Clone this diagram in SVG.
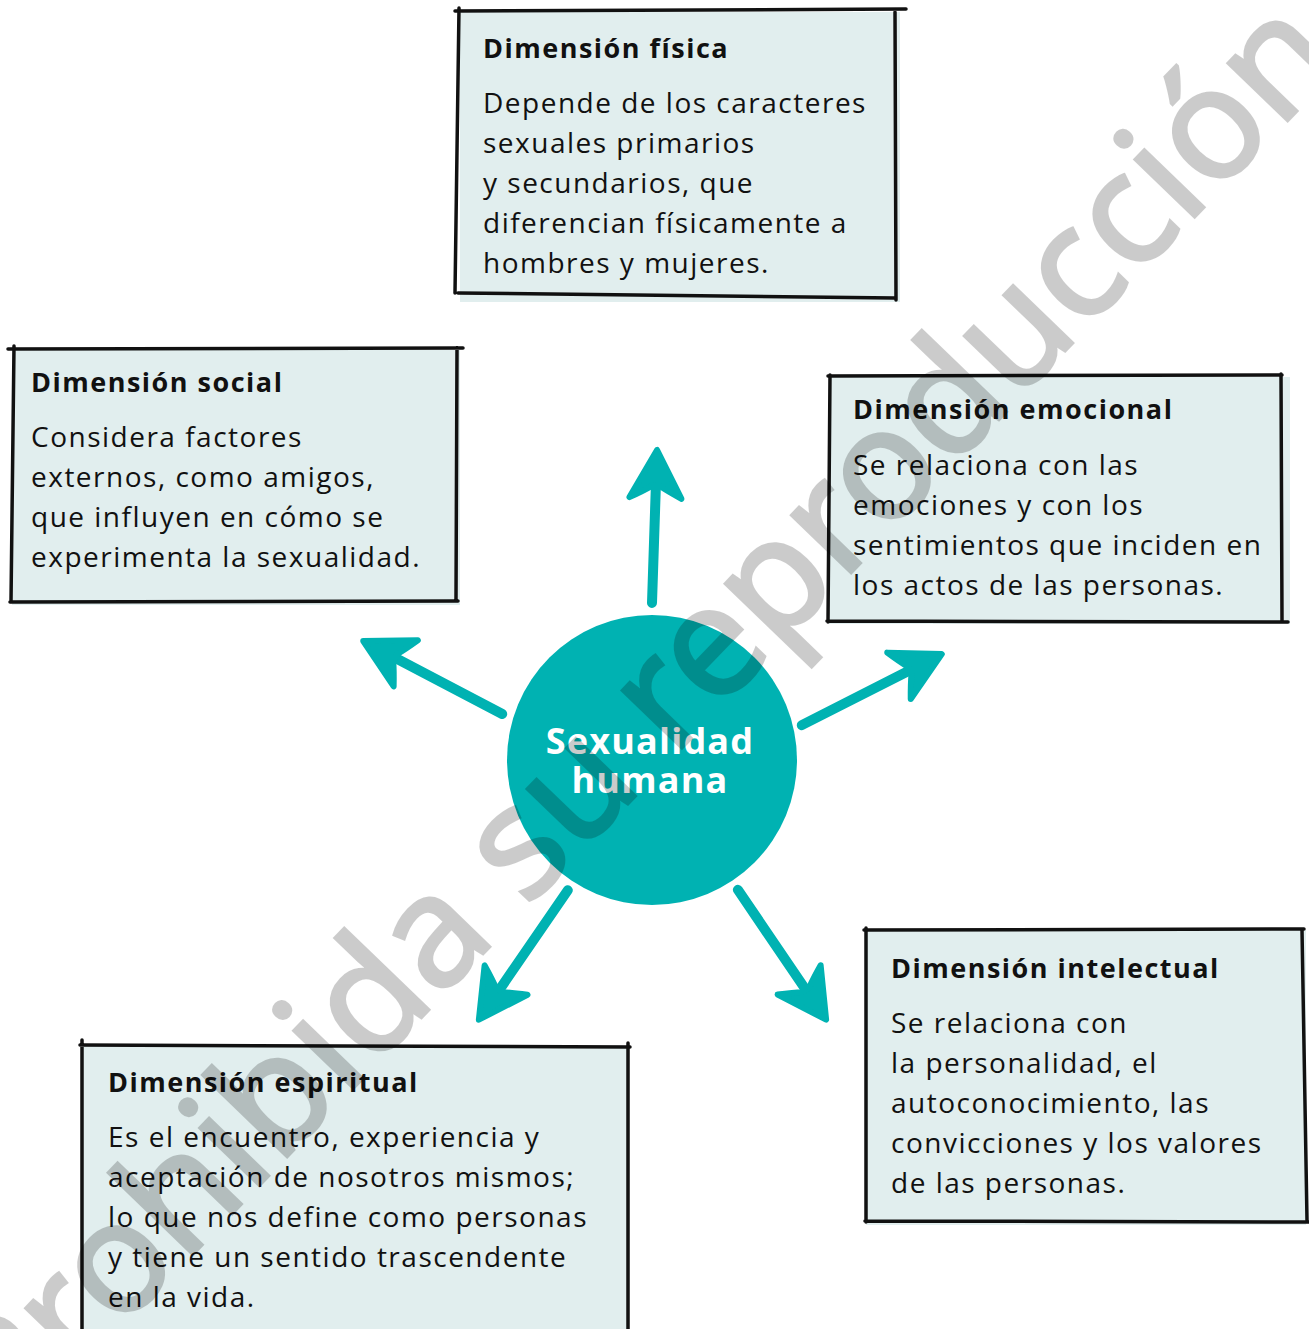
<svg xmlns="http://www.w3.org/2000/svg" width="1309" height="1329" viewBox="0 0 1309 1329">
<style>
.fill{fill:#e1eeee;stroke:none}
.bd{fill:none;stroke:#111;stroke-width:3.5;stroke-linecap:round;stroke-linejoin:round}
.tt{font-family:"Open Sans","Liberation Sans",sans-serif;font-weight:700;font-size:27px;letter-spacing:1.5px;fill:#111}
.tx{font-family:"Open Sans","Liberation Sans",sans-serif;font-size:28px;letter-spacing:1.5px;fill:#111}
.shaft{stroke:#00b2b2;stroke-width:10;stroke-linecap:round;fill:none}
.head{fill:#00b2b2;stroke:#00b2b2;stroke-width:6;stroke-linejoin:round}
.ctr{font-family:"Open Sans","Liberation Sans",sans-serif;font-weight:700;font-size:36px;letter-spacing:1.2px;fill:#fff;text-anchor:middle}
.wm{font-family:"Noto Sans","Liberation Sans",sans-serif;font-size:155px;fill:#000;stroke:#000;stroke-width:3;text-anchor:middle}
</style>
<defs>
<path id="ah" d="M2,0 L-46,-26 Q-39,-12 -34,-4 L-34,4 Q-39,12 -46,26 Z"/>
</defs>
<rect width="1309" height="1329" fill="#fff"/>

<g id="fisica">
<rect class="fill" x="460" y="12" width="440" height="290"/>
<path class="bd" d="M455,11 L906,9 M459,8 L455,293 M895,12 L896,300 M458,293 Q700,296 895,298"/>
<text class="tt" x="483" y="58">Dimensión física</text>
<text class="tx" x="483" y="113">Depende de los caracteres</text>
<text class="tx" x="483" y="153">sexuales primarios</text>
<text class="tx" x="483" y="193">y secundarios, que</text>
<text class="tx" x="483" y="233">diferencian físicamente a</text>
<text class="tx" x="483" y="273">hombres y mujeres.</text>
</g>

<g id="social">
<rect class="fill" x="12" y="350" width="448" height="255"/>
<path class="bd" d="M8,349 L463,348 M14,346 L11,602 M457,348 L456,600 M10,602 L458,601"/>
<text class="tt" x="31" y="392">Dimensión social</text>
<text class="tx" x="31" y="447">Considera factores</text>
<text class="tx" x="31" y="487">externos, como amigos,</text>
<text class="tx" x="31" y="527">que influyen en cómo se</text>
<text class="tx" x="31" y="567">experimenta la sexualidad.</text>
</g>

<g id="emocional">
<rect class="fill" x="829" y="377" width="461" height="247"/>
<path class="bd" d="M828,376 L1282,375 M830,375 L828,622 M1281,374 L1282,620 M827,621 L1288,622"/>
<text class="tt" x="853" y="419">Dimensión emocional</text>
<text class="tx" x="853" y="475">Se relaciona con las</text>
<text class="tx" x="853" y="515">emociones y con los</text>
<text class="tx" x="853" y="555">sentimientos que inciden en</text>
<text class="tx" x="853" y="595">los actos de las personas.</text>
</g>

<g id="intelectual">
<rect class="fill" x="866" y="930" width="440" height="295"/>
<path class="bd" d="M864,930 L1304,929 M866,928 L866,1222 M1302,930 L1307,1220 M865,1221 L1309,1222"/>
<text class="tt" x="891" y="978">Dimensión intelectual</text>
<text class="tx" x="891" y="1033">Se relaciona con</text>
<text class="tx" x="891" y="1073">la personalidad, el</text>
<text class="tx" x="891" y="1113">autoconocimiento, las</text>
<text class="tx" x="891" y="1153">convicciones y los valores</text>
<text class="tx" x="891" y="1193">de las personas.</text>
</g>

<g id="espiritual">
<rect class="fill" x="82" y="1046" width="546" height="290"/>
<path class="bd" d="M80,1045 L630,1047 M82,1040 L82,1332 M628,1043 L628,1332"/>
<text class="tt" x="108" y="1092">Dimensión espiritual</text>
<text class="tx" x="108" y="1147">Es el encuentro, experiencia y</text>
<text class="tx" x="108" y="1187">aceptación de nosotros mismos;</text>
<text class="tx" x="108" y="1227">lo que nos define como personas</text>
<text class="tx" x="108" y="1267">y tiene un sentido trascendente</text>
<text class="tx" x="108" y="1307">en la vida.</text>
</g>

<g id="centro">
<circle cx="652" cy="760" r="145" fill="#00b2b2"/>
<text class="ctr" x="650" y="754">Sexualidad</text>
<text class="ctr" x="650" y="793">humana</text>
</g>

<g id="connectors">
<g transform="translate(657,452) rotate(-88.1)"><line class="shaft" x1="-151" y1="0" x2="-36" y2="0"/><use href="#ah" class="head"/></g>
<g transform="translate(365,642) rotate(-152.3)"><line class="shaft" x1="-155" y1="0" x2="-36" y2="0"/><use href="#ah" class="head"/></g>
<g transform="translate(940,655) rotate(-26.9)"><line class="shaft" x1="-155" y1="0" x2="-36" y2="0"/><use href="#ah" class="head"/></g>
<g transform="translate(480,1018) rotate(124.5)"><line class="shaft" x1="-155" y1="0" x2="-36" y2="0"/><use href="#ah" class="head"/></g>
<g transform="translate(825,1018) rotate(55.8)"><line class="shaft" x1="-155" y1="0" x2="-36" y2="0"/><use href="#ah" class="head"/></g>
</g>

<g opacity="0.2">
<text class="wm" transform="translate(678,752) rotate(-46)">Prohibida su reproducción</text>
</g>
</svg>
